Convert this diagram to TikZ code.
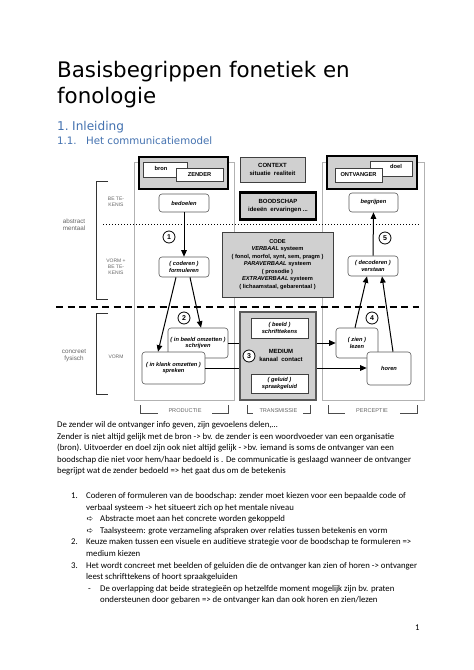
\documentclass[tikz,border=0pt]{standalone}
\usepackage{fontspec}
\setmainfont{Carlito}
\newfontfamily\titlefont{DejaVu Sans}
\newfontfamily\arialf{Liberation Sans}
\usetikzlibrary{arrows.meta,calc}
\definecolor{hblue}{RGB}{68,114,176}
\definecolor{boxgray}{RGB}{208,208,208}
\tikzset{
  body/.style={anchor=base west, inner sep=0pt, font=\fontsize{8.77}{11}\selectfont},
  colline/.style={draw=gray!60, line width=0.6pt},
  thickbox/.style={draw=black, line width=2.2pt, fill=boxgray, inner sep=0pt},
  thinbox/.style={draw=black!75, line width=0.6pt, fill=white, inner sep=0pt,
     font=\arialf\bfseries\fontsize{5.7}{6.8}\selectfont},
  graybox/.style={draw=black!75, line width=0.6pt, fill=boxgray, inner sep=0pt, align=center,
     font=\arialf\bfseries\fontsize{6}{7.2}\selectfont},
  rbox/.style={draw=black!65, line width=0.6pt, fill=white, rounded corners=3pt, inner sep=0pt,
     align=center, font=\arialf\bfseries\itshape\fontsize{5.7}{6.8}\selectfont},
  dlab/.style={inner sep=0pt, align=center, font=\arialf\bfseries\fontsize{5.7}{6.8}\selectfont},
  circ/.style={circle, draw=black, line width=0.8pt, fill=white, inner sep=0pt, minimum size=12pt,
     font=\arialf\bfseries\fontsize{7}{7}\selectfont},
  arr/.style={-{Triangle[length=6.5pt,width=5.5pt]}, line width=1pt},
  glab/.style={inner sep=0pt, align=center, text=black!60, font=\arialf\fontsize{6.3}{7.2}\selectfont},
  gcap/.style={inner sep=0pt, align=center, text=black!60, font=\arialf\fontsize{5}{6}\selectfont},
  brk/.style={draw=black!80, line width=0.7pt},
  bbrk/.style={draw=black!70, line width=0.6pt}
}
\begin{document}
\begin{tikzpicture}[x=1pt,y=-1pt]
\useasboundingbox (0,0) rectangle (474,670);
\fill[white] (0,0) rectangle (474,670);

% title and headings
\node[anchor=base west, inner sep=0pt, font=\titlefont\fontsize{21.4}{26}\selectfont] (t1) at (57,77) {Basisbegrippen fonetiek en};
\node[anchor=base west, inner sep=0pt, font=\titlefont\fontsize{21.4}{26}\selectfont] (t2) at (57,103) {fonologie};
\node[anchor=base west, inner sep=0pt, text=hblue, font=\titlefont\fontsize{12.1}{14}\selectfont] (h1n) at (57,130) {1.};
\node[anchor=base west, inner sep=0pt, text=hblue, font=\titlefont\fontsize{12.1}{14}\selectfont] (h1) at (72,130) {Inleiding};
\node[anchor=base west, inner sep=0pt, text=hblue, font=\titlefont\fontsize{10.25}{12}\selectfont] (h2n) at (57,144) {1.1.};
\node[anchor=base west, inner sep=0pt, text=hblue, font=\titlefont\fontsize{10.25}{12}\selectfont] (h2) at (86,144) {Het communicatiemodel};

% column outlines
\draw[colline] (134,162) rectangle (234,400);
\draw[colline] (322,162) rectangle (424,400);

% level lines
\draw[line width=0.6pt, dash pattern=on 0.8pt off 2.2pt] (103,224) -- (419,224);
\draw[line width=1.4pt, dash pattern=on 7pt off 4.5pt] (56,307) -- (419,307);

% left brackets and labels
\draw[brk] (108,181) -- (96,181) -- (96,299) -- (108,299);
\draw[brk] (108,313) -- (96,313) -- (96,394) -- (108,394);
\node[glab] (abs) at (74,225) {abstract\\mentaal};
\node[glab] (con) at (74,356) {concreet\\fysisch};
\node[gcap] (bet) at (116,202) {BE TE-\\KENIS};
\node[gcap] (vbet) at (116,267) {VORM +\\BE TE-\\KENIS};
\node[gcap] (vorm) at (116,357) {VORM};

% ZENDER
\node[thickbox, minimum width=89pt, minimum height=32pt] (zen) at (183.5,173) {};
\node[thinbox, minimum width=44pt, minimum height=15pt] (bron) at (165,169.5) {};
\node[dlab] (bront) at (161,168.5) {bron};
\node[thinbox, minimum width=47pt, minimum height=13pt] (zender) at (199.5,174.5) {ZENDER};

% CONTEXT, BOODSCHAP
\node[graybox, minimum width=65pt, minimum height=25pt] (ctx) at (272.5,169.5) {CONTEXT\\situatie \ realiteit};
\node[thickbox, minimum width=76pt, minimum height=27pt, align=center,
      font=\arialf\bfseries\fontsize{6}{7.2}\selectfont] (bds) at (278,206) {BOODSCHAP\\ideeën \ ervaringen ...};

% ONTVANGER
\node[thickbox, minimum width=90pt, minimum height=33pt] (ont) at (372,172.5) {};
\node[thinbox, minimum width=42pt, minimum height=15pt] (doel) at (391,168.5) {};
\node[dlab] (doelt) at (396,166.5) {doel};
\node[thinbox, minimum width=47pt, minimum height=14pt] (ontv) at (358.5,175) {ONTVANGER};

% rounded boxes
\node[rbox, minimum width=50pt, minimum height=18pt] (bed) at (184,203) {bedoelen};
\node[rbox, minimum width=49pt, minimum height=19pt] (beg) at (373.5,202.5) {begrijpen};
\node[rbox, minimum width=50pt, minimum height=20pt] (cod) at (184,267) {( coderen )\\formuleren};
\node[rbox, minimum width=50pt, minimum height=20pt] (dec) at (373,266) {( decoderen )\\verstaan};

% CODE
\node[graybox, minimum width=111pt, minimum height=65pt, font=\arialf\bfseries\fontsize{5.7}{7.5}\selectfont] (code) at (277.5,264.5)
  {CODE\\\textit{VERBAAL} systeem\\( fonol, morfol, synt, sem, pragm )\\\textit{PARAVERBAAL} systeem\\( prosodie )\\\textit{EXTRAVERBAAL} systeem\\( lichaamstaal, gebarentaal )};

% lower boxes
\node[rbox, minimum width=60pt, minimum height=30pt] (sch) at (198,343) {( in beeld omzetten )\\schrijven};
\node[rbox, minimum width=63pt, minimum height=32pt] (spr) at (173.5,368) {( in klank omzetten )\\spreken};
\node[rbox, minimum width=42pt, minimum height=30pt] (lez) at (357,343) {( zien )\\lezen};
\node[rbox, minimum width=44pt, minimum height=33pt] (hor) at (389,368.5) {horen};

% arrows
\draw[arr] (bed) -- (cod);
\draw[arr] (dec.north) -- (beg.south);
\draw[arr] ($(cod.south)+(-8,0)$) -- ($(spr.north)+(-15.5,0)$);
\draw[arr] ($(cod.south)+(6,0)$) -- ($(sch.north)+(3,0)$);
\draw[arr] (sch.east) -- (sch.east -| lez.west);
\draw[arr] (spr.east) -- (spr.east -| hor.west);
\draw[arr] ($(lez.north)+(-2,0)$) -- ($(dec.south)+(-6,0)$);
\draw[arr] ($(hor.north)+(4,0)$) -- ($(dec.south)+(9,0)$);

% MEDIUM
\node[draw=gray!70!black, line width=1.4pt, fill=boxgray, minimum width=76pt, minimum height=88pt, inner sep=0pt] (med) at (278,356) {};
\node[thinbox, align=center, font=\arialf\bfseries\itshape\fontsize{5.7}{6.8}\selectfont, minimum width=57pt, minimum height=20pt] (schr) at (279.5,328) {( beeld )\\schrifttekens};
\node[thinbox, align=center, font=\arialf\bfseries\itshape\fontsize{5.7}{6.8}\selectfont, minimum width=57pt, minimum height=19pt] (spra) at (279.5,383.5) {( geluid )\\spraakgeluid};
\node[dlab, font=\arialf\bfseries\fontsize{6}{7.2}\selectfont] (medt) at (281,355.5) {MEDIUM\\kanaal \ contact};

% circles
\node[circ] (c1) at (169,237) {1};
\node[circ] (c5) at (385,238) {5};
\node[circ] (c2) at (184,318) {2};
\node[circ] (c3) at (249,356) {3};
\node[circ] (c4) at (372,318) {4};

% bottom labels
\node[glab, font=\arialf\fontsize{5.6}{6}\selectfont] (prod) at (185,411) {PRODUCTIE};
\draw[bbrk] (140,405) |- (158,413);
\draw[bbrk] (212,413) -| (228,405);
\node[glab, font=\arialf\fontsize{5.6}{6}\selectfont] (trans) at (278.5,411) {TRANSMISSIE};
\draw[bbrk] (247,405) |- (253,413);
\draw[bbrk] (303,413) -| (310,405);
\node[glab, font=\arialf\fontsize{5.6}{6}\selectfont] (perc) at (372,411) {PERCEPTIE};
\draw[bbrk] (328,405) |- (345,413);
\draw[bbrk] (400,413) -| (417,405);

% body text
\node[body] (p1) at (57,427.5) {De zender wil de ontvanger info geven, zijn gevoelens delen,…};
\node[body] (p2) at (57,439.1) {Zender is niet altijd gelijk met de bron -> bv. de zender is een woordvoeder van een organisatie};
\node[body] (p3) at (57,450.7) {(bron). Uitvoerder en doel zijn ook niet altijd gelijk - >bv. iemand is soms de ontvanger van een};
\node[body] (p4) at (57,462.3) {boodschap die niet voor hem/haar bedoeld is . De communicatie is geslaagd wanneer de ontvanger};
\node[body] (p5) at (57,473.9) {begrijpt wat de zender bedoeld => het gaat dus om de betekenis};

\node[body] (n1) at (71,498.5) {1.};
\node[body] (l1a) at (86,498.5) {Coderen of formuleren van de boodschap: zender moet kiezen voor een bepaalde code of};
\node[body] (l1b) at (86,510.1) {verbaal systeem -> het situeert zich op het mentale niveau};
\node[body, font=\titlefont\bfseries\fontsize{8}{8}\selectfont] (a1) at (86.5,521.7) {➪};
\node[body] (l1c) at (100,521.7) {Abstracte moet aan het concrete worden gekoppeld};
\node[body, font=\titlefont\bfseries\fontsize{8}{8}\selectfont] (a2) at (86.5,533.3) {➪};
\node[body] (l1d) at (100,533.3) {Taalsysteem: grote verzameling afspraken over relaties tussen betekenis en vorm};
\node[body] (n2) at (71,544.9) {2.};
\node[body] (l2a) at (86,544.9) {Keuze maken tussen een visuele en auditieve strategie voor de boodschap te formuleren =>};
\node[body] (l2b) at (86,556.5) {medium kiezen};
\node[body] (n3) at (71,568.1) {3.};
\node[body] (l3a) at (86,568.1) {Het wordt concreet met beelden of geluiden die de ontvanger kan zien of horen -> ontvanger};
\node[body] (l3b) at (86,579.7) {leest schrifttekens of hoort spraakgeluiden};
\node[body] (d1) at (88,591.3) {-};
\node[body] (l3c) at (100,591.3) {De overlapping dat beide strategieën op hetzelfde moment mogelijk zijn bv. praten};
\node[body] (l3d) at (100,602.9) {ondersteunen door gebaren => de ontvanger kan dan ook horen en zien/lezen};
\node[body] (pg) at (415,630) {1};
\end{tikzpicture}
\end{document}
